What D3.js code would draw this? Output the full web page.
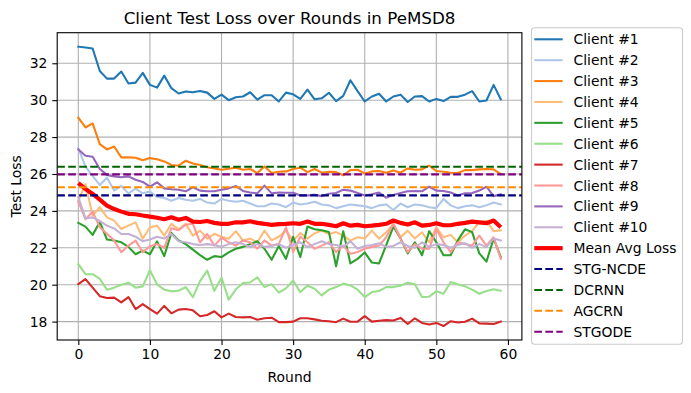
<!DOCTYPE html>
<html>
<head>
<meta charset="utf-8">
<script src="https://cdn.jsdelivr.net/npm/d3@7"></script>
<style>
  body { margin: 0; background: #fff; }
  text { font-family: "DejaVu Sans", sans-serif; fill: #000; }
</style>
</head>
<body>
<svg id="chart" width="691" height="393"></svg>
<script>
// values, one per round (0..59)
var client1 = [32.9, 32.85, 32.8, 31.58, 31.17, 31.17, 31.55, 30.9, 30.95, 31.48, 30.83, 30.68, 31.33, 30.65, 30.36, 30.47, 30.43, 30.5, 30.41, 30.07, 30.3, 30.0, 30.16, 30.2, 30.43, 30.03, 30.27, 30.27, 29.93, 30.41, 30.32, 30.07, 30.57, 30.05, 30.1, 30.4, 29.95, 30.23, 31.08, 30.49, 29.93, 30.2, 30.35, 29.93, 30.2, 30.3, 29.9, 30.2, 30.22, 29.93, 30.07, 29.95, 30.18, 30.18, 30.3, 30.49, 29.93, 29.98, 30.83, 30.05]
var client2 = [27.4, 26.4, 25.9, 25.4, 25.8, 25.1, 25.35, 24.95, 25.2, 24.95, 25.05, 24.75, 24.7, 24.55, 24.7, 24.6, 24.55, 24.65, 24.45, 24.4, 24.65, 24.55, 24.5, 24.55, 24.4, 24.25, 24.25, 24.4, 24.35, 24.2, 24.45, 24.35, 24.4, 24.5, 24.35, 24.3, 24.15, 24.25, 24.35, 24.3, 24.25, 24.15, 24.3, 24.35, 24.05, 24.4, 24.2, 24.35, 24.3, 24.2, 24.15, 24.65, 24.3, 24.15, 24.25, 24.3, 24.2, 24.3, 24.45, 24.35]
var client3 = [29.05, 28.52, 28.74, 27.62, 27.33, 27.49, 26.9, 26.9, 26.88, 26.74, 26.86, 26.8, 26.68, 26.49, 26.45, 26.72, 26.57, 26.49, 26.36, 26.3, 26.23, 26.28, 26.34, 26.23, 26.27, 26.05, 26.41, 26.05, 26.12, 26.14, 26.27, 26.34, 26.1, 26.27, 26.07, 26.12, 26.1, 25.93, 26.21, 26.23, 26.03, 26.14, 26.16, 26.07, 26.19, 26.07, 26.3, 26.23, 26.25, 26.45, 26.16, 26.12, 26.07, 26.05, 26.21, 26.21, 26.25, 26.27, 26.25, 26.0]
var client4 = [24.55, 25.45, 23.75, 24.2, 23.65, 23.47, 23.02, 23.2, 23.38, 22.49, 23.11, 23.2, 22.66, 23.3, 23.0, 23.3, 22.66, 22.93, 22.5, 22.76, 22.6, 22.49, 22.9, 22.39, 22.5, 22.3, 22.93, 22.4, 22.6, 22.93, 22.39, 22.8, 22.5, 22.79, 22.93, 22.75, 22.85, 22.66, 22.39, 22.57, 22.5, 22.93, 22.5, 22.84, 23.3, 22.57, 22.93, 22.5, 22.84, 22.3, 23.11, 22.57, 22.7, 22.3, 22.66, 22.9, 23.4, 23.47, 22.9, 22.95]
var client5 = [23.35, 23.15, 22.7, 23.4, 22.45, 22.4, 22.3, 22.05, 21.65, 21.85, 21.65, 22.35, 21.55, 22.8, 22.4, 22.2, 21.9, 21.6, 21.35, 21.55, 21.5, 21.75, 21.95, 22.05, 22.2, 22.35, 21.95, 21.35, 22.1, 21.4, 22.6, 21.5, 23.15, 23.0, 22.95, 22.85, 21.0, 22.9, 21.15, 21.4, 21.75, 21.2, 21.15, 22.15, 23.15, 22.5, 21.7, 22.3, 21.6, 22.9, 22.3, 21.6, 21.6, 22.4, 23.0, 22.85, 21.7, 21.25, 22.5, 21.5]
var client6 = [21.11, 20.57, 20.57, 20.32, 19.73, 19.84, 20.0, 20.11, 19.84, 19.91, 20.79, 20.01, 19.73, 19.64, 19.67, 19.87, 19.33, 20.19, 20.77, 19.67, 20.38, 19.19, 19.75, 20.09, 20.12, 20.4, 19.87, 20.03, 19.57, 19.8, 20.23, 19.6, 19.95, 19.78, 19.42, 19.73, 19.87, 20.06, 19.96, 19.73, 19.33, 19.6, 19.66, 19.87, 19.87, 19.95, 20.11, 20.02, 19.33, 19.35, 19.64, 19.51, 20.14, 20.02, 19.91, 19.73, 19.51, 19.66, 19.75, 19.67]
var client7 = [20.03, 20.3, 19.84, 19.38, 19.28, 19.3, 19.04, 19.33, 18.68, 18.95, 18.68, 18.43, 18.85, 18.45, 18.65, 18.68, 18.61, 18.29, 18.36, 18.56, 18.23, 18.43, 18.25, 18.23, 18.25, 18.1, 18.18, 18.21, 17.97, 17.97, 18.0, 18.18, 18.18, 18.12, 18.05, 18.02, 17.97, 18.16, 17.99, 18.0, 18.3, 18.0, 18.05, 18.08, 18.06, 18.2, 17.87, 18.18, 17.93, 17.84, 17.93, 17.76, 18.02, 17.95, 17.99, 18.16, 17.9, 17.89, 17.87, 18.0]
var client8 = [24.5, 23.55, 23.95, 23.11, 22.76, 22.39, 21.76, 22.12, 22.39, 21.76, 22.09, 22.2, 22.0, 23.06, 22.95, 23.25, 23.3, 22.3, 22.75, 22.12, 22.55, 22.3, 22.12, 22.4, 22.3, 21.95, 22.4, 22.12, 22.2, 23.11, 21.77, 22.6, 22.3, 21.95, 22.12, 22.3, 21.77, 22.12, 21.68, 21.77, 21.95, 22.05, 22.12, 22.57, 23.3, 22.5, 21.77, 22.2, 21.95, 21.95, 23.0, 22.3, 21.77, 22.3, 22.2, 22.12, 22.66, 22.12, 22.57, 21.4]
var client9 = [27.33, 26.99, 26.93, 26.27, 25.95, 25.87, 25.82, 25.87, 25.69, 25.57, 25.31, 25.55, 25.22, 25.17, 25.15, 25.06, 25.28, 25.1, 25.06, 25.06, 25.15, 25.22, 25.35, 25.08, 25.0, 24.95, 25.37, 24.95, 25.0, 24.98, 24.98, 24.83, 24.83, 24.88, 24.8, 24.93, 24.97, 25.15, 25.1, 24.97, 24.83, 24.9, 24.99, 24.72, 24.86, 24.97, 25.06, 25.08, 25.06, 25.31, 25.1, 25.08, 25.0, 24.83, 24.95, 24.97, 25.1, 25.31, 24.8, 24.9]
var client10 = [24.75, 23.6, 23.65, 23.45, 23.2, 23.05, 22.75, 22.75, 22.6, 22.35, 22.45, 22.6, 22.5, 22.75, 22.35, 22.3, 22.2, 22.15, 22.2, 22.15, 22.05, 22.2, 22.3, 22.2, 22.05, 22.2, 22.05, 22.1, 22.2, 22.0, 22.15, 22.3, 22.05, 22.2, 22.35, 22.2, 22.15, 22.05, 22.35, 21.95, 22.1, 22.15, 22.25, 22.05, 22.1, 22.3, 22.1, 22.0, 22.3, 22.05, 22.2, 22.15, 22.0, 22.15, 22.25, 22.0, 22.2, 22.05, 22.5, 22.4]
var meanLoss = [25.5, 25.19, 24.92, 24.61, 24.29, 24.1, 23.96, 23.84, 23.82, 23.75, 23.69, 23.63, 23.55, 23.65, 23.52, 23.62, 23.42, 23.4, 23.45, 23.35, 23.3, 23.3, 23.38, 23.38, 23.44, 23.35, 23.3, 23.24, 23.28, 23.3, 23.33, 23.3, 23.42, 23.3, 23.3, 23.24, 23.17, 23.33, 23.2, 23.24, 23.17, 23.2, 23.24, 23.3, 23.48, 23.35, 23.26, 23.38, 23.2, 23.24, 23.33, 23.22, 23.22, 23.3, 23.35, 23.42, 23.38, 23.33, 23.48, 23.11]

var clients = [client1, client2, client3, client4, client5, client6, client7, client8, client9, client10]
var clientNames = ["Client #1", "Client #2", "Client #3", "Client #4", "Client #5", "Client #6", "Client #7", "Client #8", "Client #9", "Client #10"]
var clientColors = ["#1f77b4", "#aec7e8", "#ff7f0e", "#ffbb78", "#2ca02c", "#98df8a", "#d62728", "#ff9896", "#9467bd", "#c5b0d5"]

var baselineNames = ["STG-NCDE", "DCRNN", "AGCRN", "STGODE"]
var baselineValues = [24.84, 26.39, 25.28, 25.98]
var baselineColors = ["#000080", "#006400", "#ff8c00", "#800080"]

var xTicks = [0, 10, 20, 30, 40, 50, 60]
var yTicks = [18, 20, 22, 24, 26, 28, 30, 32]

var svg = d3.select('#chart')
var box = {left: 57.2, right: 521.9, top: 32.7, bottom: 340}
var lw = 2.08 // 1.5pt

svg.append('rect').attr('width', 691).attr('height', 393).attr('fill', '#fff')

// matplotlib style autoscale with 5% margins
var nRounds = client1.length
var allVals = d3.merge(clients.concat([meanLoss]))
var lo = d3.min(allVals), hi = d3.max(allVals)
var xScale = d3.scaleLinear()
  .domain([0 - 0.05 * (nRounds - 1), (nRounds - 1) * 1.05])
  .range([box.left, box.right])
var yScale = d3.scaleLinear()
  .domain([lo - 0.05 * (hi - lo), hi + 0.05 * (hi - lo)])
  .range([box.bottom, box.top])

// grid
var grid = svg.append('g')
grid.selectAll('.vg').data(xTicks).enter().append('line')
  .attr('x1', d => xScale(d)).attr('x2', d => xScale(d))
  .attr('y1', box.top).attr('y2', box.bottom)
  .attr('stroke', '#b0b0b0').attr('stroke-width', 1.1)
grid.selectAll('.hg').data(yTicks).enter().append('line')
  .attr('y1', d => yScale(d)).attr('y2', d => yScale(d))
  .attr('x1', box.left).attr('x2', box.right)
  .attr('stroke', '#b0b0b0').attr('stroke-width', 1.1)

svg.append('clipPath').attr('id', 'clip').append('rect')
  .attr('x', box.left).attr('y', box.top)
  .attr('width', box.right - box.left).attr('height', box.bottom - box.top)

var plot = svg.append('g').attr('clip-path', 'url(#clip)')
var line = d3.line().x((d, i) => xScale(i)).y(d => yScale(d))

clients.forEach(function(series, k) {
  plot.append('path').datum(series)
    .attr('d', line).attr('fill', 'none')
    .attr('stroke', clientColors[k]).attr('stroke-width', lw)
    .attr('stroke-linejoin', 'round').attr('stroke-linecap', 'square')
})

plot.append('path').datum(meanLoss)
  .attr('d', line).attr('fill', 'none')
  .attr('stroke', '#ff0000').attr('stroke-width', 4.17)
  .attr('stroke-linejoin', 'round')

baselineValues.forEach(function(v, k) {
  plot.append('line')
    .attr('x1', box.left).attr('x2', box.right)
    .attr('y1', yScale(v)).attr('y2', yScale(v))
    .attr('stroke', baselineColors[k]).attr('stroke-width', lw)
    .attr('stroke-dasharray', '7.7,3.3')
})

// axes
var xAxis = d3.axisBottom(xScale).tickValues(xTicks).tickSize(4.9).tickPadding(4.2).tickSizeOuter(0)
var yAxis = d3.axisLeft(yScale).tickValues(yTicks).tickSize(4.9).tickPadding(4.9).tickSizeOuter(0)
var gx = svg.append('g').attr('transform', 'translate(0,' + box.bottom + ')').call(xAxis)
var gy = svg.append('g').attr('transform', 'translate(' + box.left + ',0)').call(yAxis)
;[gx, gy].forEach(function(g) {
  g.select('.domain').remove()
  g.selectAll('line').attr('stroke', '#000').attr('stroke-width', 1.1)
  g.selectAll('text').attr('font-size', 13.9).attr('font-family', '"DejaVu Sans", sans-serif').attr('fill', '#000')
})

svg.append('rect')
  .attr('x', box.left).attr('y', box.top)
  .attr('width', box.right - box.left).attr('height', box.bottom - box.top)
  .attr('fill', 'none').attr('stroke', '#000').attr('stroke-width', 1.1)

svg.append('text').attr('x', (box.left + box.right) / 2).attr('y', 24.4)
  .attr('text-anchor', 'middle').attr('font-size', 16.7)
  .text('Client Test Loss over Rounds in PeMSD8')
svg.append('text').attr('x', (box.left + box.right) / 2).attr('y', 382)
  .attr('text-anchor', 'middle').attr('font-size', 13.9)
  .text('Round')
svg.append('text')
  .attr('transform', 'translate(21,' + (box.top + box.bottom) / 2 + ') rotate(-90)')
  .attr('text-anchor', 'middle').attr('font-size', 13.9)
  .text('Test Loss')

// legend
var entries = clientNames.map((n, k) => ({name: n, color: clientColors[k], width: lw, dash: null}))
  .concat([{name: 'Mean Avg Loss', color: '#ff0000', width: 4.17, dash: null}])
  .concat(baselineNames.map((n, k) => ({name: n, color: baselineColors[k], width: lw, dash: '7.7,3.3'})))

var leg = svg.append('g')
leg.append('rect').attr('x', 531.5).attr('y', 27.7).attr('width', 151).attr('height', 316.5)
  .attr('rx', 3).attr('fill', '#fff').attr('fill-opacity', 0.8)
  .attr('stroke', '#cccccc').attr('stroke-width', 1.1)

var rowY = d3.scaleLinear().domain([0, entries.length - 1]).range([39.3, 331.7])
var rows = leg.selectAll('.row').data(entries).enter().append('g')
  .attr('transform', (d, i) => 'translate(0,' + rowY(i) + ')')
rows.append('line').attr('x1', 534.3).attr('x2', 562.7)
  .attr('stroke', d => d.color).attr('stroke-width', d => d.width)
  .attr('stroke-dasharray', d => d.dash)
rows.append('text').attr('x', 573.5).attr('y', 5).attr('font-size', 13.9)
  .text(d => d.name)
</script>
</body>
</html>
